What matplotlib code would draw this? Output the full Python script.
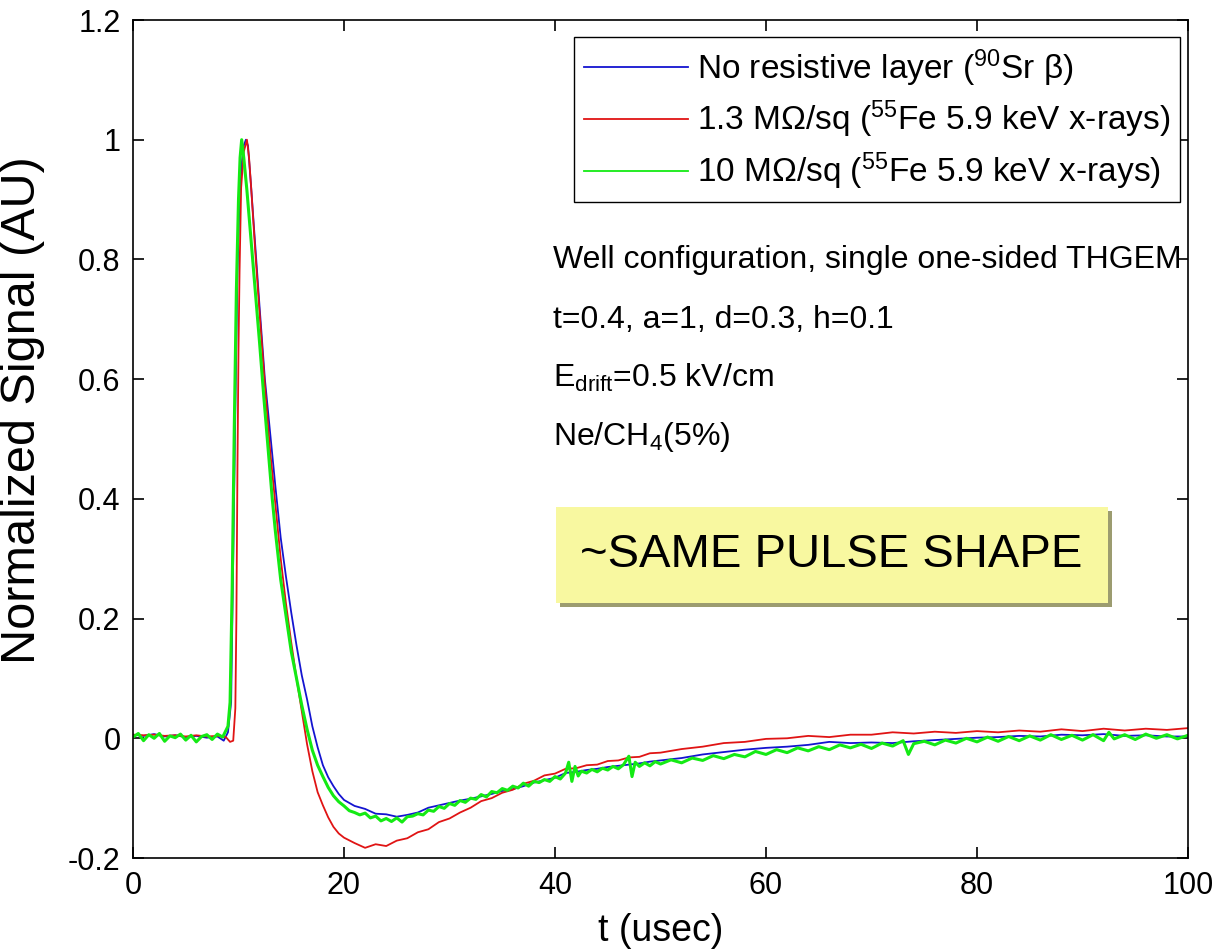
import matplotlib
matplotlib.use("Agg")
import matplotlib.pyplot as plt
from matplotlib.patches import Rectangle
import matplotlib.patheffects as pe

plt.rcParams['font.family'] = ['Liberation Sans', 'DejaVu Sans']
plt.rcParams['mathtext.fontset'] = 'custom'
plt.rcParams['mathtext.rm'] = 'Liberation Sans'
plt.rcParams['mathtext.it'] = 'Liberation Sans:italic'
plt.rcParams['mathtext.bf'] = 'Liberation Sans:bold'

# ---- pulse data: time (usec) and normalized signal ----
t_blue = [0, 1, 2, 3, 4, 5, 6, 7, 8, 8.6, 9.0, 9.3, 9.5, 9.7, 9.9, 10.1, 10.3, 10.5,
          10.7, 10.9, 11.2, 11.6, 12.0, 12.5, 13.0, 13.5, 14.0, 14.5, 15.0, 15.5,
          16.0, 16.5, 17.0, 17.5, 18.0, 18.5, 19.0, 19.5, 20, 21, 22, 23, 24, 25,
          26, 27, 28, 29, 30, 31, 32, 33, 34, 35, 36, 37, 38, 39, 40, 41, 42, 43,
          44, 45, 46, 47, 48, 49, 50, 52, 54, 56, 58, 60, 62, 64, 66, 68, 70, 72,
          74, 76, 78, 80, 82, 84, 86, 88, 90, 92, 94, 96, 98, 100]
v_blue = [0.006, 0.004, 0.007, 0.003, 0.005, 0.002, 0.004, 0.001, 0.003, -0.004,
          0.010, 0.060, 0.300, 0.550, 0.780, 0.900, 0.960, 0.990, 1.000, 0.990,
          0.920, 0.820, 0.720, 0.600, 0.510, 0.420, 0.335, 0.270, 0.210, 0.155,
          0.105, 0.065, 0.020, -0.015, -0.045, -0.065, -0.080, -0.093, -0.103,
          -0.113, -0.118, -0.126, -0.127, -0.131, -0.128, -0.124, -0.116, -0.112,
          -0.108, -0.104, -0.101, -0.097, -0.093, -0.088, -0.085, -0.080, -0.074,
          -0.070, -0.066, -0.058, -0.056, -0.053, -0.051, -0.048, -0.046, -0.044,
          -0.042, -0.039, -0.037, -0.033, -0.027, -0.023, -0.019, -0.016, -0.014,
          -0.011, -0.006, -0.008, -0.007, -0.008, -0.005, -0.003, -0.001, 0.001,
          0.002, 0.004, 0.003, 0.006, 0.005, 0.007, 0.004, 0.005, 0.003, 0.003]

t_red = [0, 1, 2, 3, 4, 5, 6, 7, 8, 8.8, 9.2, 9.5, 9.7, 9.8, 9.9, 10.0, 10.1, 10.25,
         10.5, 10.8, 11.0, 11.2, 11.6, 12.0, 12.5, 13.0, 13.5, 14.0, 14.5, 15.0,
         15.5, 16.0, 16.5, 17.0, 17.5, 18.0, 18.5, 19.0, 19.5, 20, 21, 22, 23, 24,
         25, 26, 27, 28, 29, 30, 31, 32, 33, 34, 35, 36, 37, 38, 39, 40, 41, 42,
         43, 44, 45, 46, 47, 48, 49, 50, 52, 54, 56, 58, 60, 62, 64, 66, 68, 70,
         72, 74, 76, 78, 80, 82, 84, 86, 88, 90, 92, 94, 96, 98, 100]
v_red = [0.006, 0.005, 0.006, 0.004, 0.005, 0.003, 0.005, 0.003, 0.004, 0.002,
         -0.006, -0.004, 0.050, 0.200, 0.450, 0.650, 0.780, 0.920, 0.980, 1.000,
         0.970, 0.920, 0.810, 0.710, 0.590, 0.480, 0.390, 0.300, 0.225, 0.160,
         0.100, 0.045, -0.010, -0.055, -0.090, -0.112, -0.132, -0.148, -0.159,
         -0.166, -0.175, -0.183, -0.177, -0.180, -0.171, -0.167, -0.157, -0.152,
         -0.140, -0.134, -0.124, -0.116, -0.105, -0.100, -0.091, -0.086, -0.076,
         -0.071, -0.062, -0.059, -0.051, -0.050, -0.045, -0.044, -0.038, -0.037,
         -0.032, -0.031, -0.025, -0.024, -0.018, -0.014, -0.008, -0.006, -0.001,
         0.000, 0.004, 0.002, 0.006, 0.006, 0.010, 0.008, 0.011, 0.009, 0.012,
         0.010, 0.013, 0.011, 0.015, 0.012, 0.016, 0.013, 0.016, 0.014, 0.017]

t_green = [0, 0.5, 1, 1.5, 2, 2.5, 3, 3.5, 4, 4.5, 5, 5.5, 6, 6.5, 7, 7.5, 8, 8.5,
           9.0, 9.2, 9.4, 9.6, 9.8, 10.0, 10.15, 10.3, 10.5, 10.8, 11.2, 11.6,
           12.0, 12.4, 12.8, 13.2, 13.5, 14.0, 14.5, 15.0, 15.5, 16.0, 16.5, 17.0,
           17.5, 18.0, 18.5, 19.0, 19.5, 20.0, 20.5, 21, 21.5, 22, 22.5, 23, 23.5,
           24, 24.5, 25, 25.5, 26, 26.5, 27, 27.5, 28, 28.5, 29, 29.5, 30, 30.5,
           31, 31.5, 32, 32.5, 33, 33.5, 34, 34.5, 35, 35.5, 36, 36.5, 37, 37.5,
           38, 38.5, 39, 39.5, 40, 40.5, 41, 41.3, 41.6, 41.9, 42.2, 42.5, 43,
           43.5, 44, 44.5, 45, 45.5, 46, 46.5, 47.0, 47.3, 47.6, 48, 48.5, 49,
           49.5, 50, 51, 52, 53, 54, 55, 56, 57, 58, 59, 60, 61, 62, 63, 64, 65,
           66, 67, 68, 69, 70, 71, 72, 73, 73.5, 74, 75, 76, 77, 78, 79, 80, 81,
           82, 83, 84, 85, 86, 87, 88, 89, 90, 91, 92, 92.5, 93, 94, 95, 96, 97,
           98, 99, 100]
v_green = [0.002, 0.008, -0.004, 0.006, 0.000, 0.008, -0.005, 0.004, 0.001, 0.007,
           -0.003, 0.005, -0.006, 0.003, 0.006, -0.002, 0.007, 0.002, 0.020, 0.060,
           0.250, 0.520, 0.750, 0.900, 0.970, 1.000, 0.970, 0.915, 0.830, 0.745,
           0.660, 0.570, 0.485, 0.400, 0.345, 0.265, 0.205, 0.145, 0.100, 0.055,
           0.015, -0.020, -0.045, -0.064, -0.082, -0.096, -0.106, -0.113, -0.121,
           -0.124, -0.128, -0.125, -0.133, -0.130, -0.138, -0.134, -0.139, -0.133,
           -0.140, -0.131, -0.130, -0.126, -0.128, -0.120, -0.122, -0.114, -0.117,
           -0.109, -0.112, -0.104, -0.107, -0.100, -0.102, -0.094, -0.098, -0.089,
           -0.091, -0.084, -0.087, -0.080, -0.083, -0.075, -0.080, -0.072, -0.074,
           -0.069, -0.072, -0.064, -0.068, -0.058, -0.040, -0.072, -0.047, -0.063,
           -0.055, -0.058, -0.052, -0.056, -0.050, -0.053, -0.047, -0.051, -0.044,
           -0.030, -0.064, -0.040, -0.047, -0.041, -0.046, -0.039, -0.043, -0.036,
           -0.041, -0.033, -0.037, -0.029, -0.034, -0.027, -0.031, -0.022, -0.027,
           -0.019, -0.024, -0.016, -0.021, -0.014, -0.019, -0.011, -0.016, -0.010,
           -0.017, -0.008, -0.013, -0.004, -0.027, -0.009, -0.005, -0.011, -0.003,
           -0.008, 0.000, -0.006, 0.002, -0.005, 0.003, -0.004, 0.004, -0.003,
           0.006, -0.002, 0.005, -0.003, 0.006, -0.004, 0.010, -0.001, 0.006,
           -0.002, 0.007, 0.000, 0.006, -0.001, 0.005]

labels = [r'No resistive layer ($^{90}$Sr β)',
          r'1.3 MΩ/sq ($^{55}$Fe 5.9 keV x-rays)',
          r'10 MΩ/sq ($^{55}$Fe 5.9 keV x-rays)']
x_ticks = [0, 20, 40, 60, 80, 100]
y_ticks = [-0.2, 0, 0.2, 0.4, 0.6, 0.8, 1.0, 1.2]
y_tick_labels = ['-0.2', '0', '0.2', '0.4', '0.6', '0.8', '1', '1.2']

W, H = 1221, 949
fig = plt.figure(figsize=(W / 100, H / 100), dpi=100)
ax = fig.add_axes([133 / W, 1 - 858 / H, (1188 - 133) / W, (858 - 20) / H])

ax.plot(t_blue, v_blue, color='#1414d0', lw=1.3, label=labels[0])
ax.plot(t_red, v_red, color='#e01414', lw=1.3, label=labels[1])
ax.plot(t_green, v_green, color='#14ea14', lw=2.2, label=labels[2])

ax.set_xlim(0, 100)
ax.set_ylim(-0.2, 1.2)
ax.set_xticks(x_ticks)
ax.set_xticklabels([str(v) for v in x_ticks])
ax.set_yticks(y_ticks)
ax.set_yticklabels(y_tick_labels)
ax.tick_params(direction='in', length=8, width=1.2, top=True, right=True,
               labelsize=22, pad=9)
for s in ax.spines.values():
    s.set_linewidth(1.2)

ax.set_xlabel('t (usec)', fontsize=27, labelpad=9)
ax.set_ylabel('Normalized Signal (AU)', fontsize=35)
ax.yaxis.set_label_coords(-0.0834, 0.535)

leg = ax.legend(loc='upper right', bbox_to_anchor=(0.9924, 0.9797),
                borderaxespad=0, fontsize=24, handlelength=3.1,
                handletextpad=0.27, labelspacing=0.31, fancybox=False,
                framealpha=1, edgecolor='black', borderpad=0.3)
leg.get_frame().set_linewidth(1.0)
for h in leg.get_lines():
    h.set_linewidth(1.3)

info = ['Well configuration, single one-sided THGEM',
        't=0.4, a=1, d=0.3, h=0.1',
        r'E$_{\mathrm{drift}}$=0.5 kV/cm',
        r'Ne/CH$_4$(5%)']
info_y = [0.786, 0.685, 0.587, 0.490]
for s, y in zip(info, info_y):
    ax.text(39.8, y, s, fontsize=23, ha='left', va='baseline')

# highlighted remark with a drop shadow
box = Rectangle((40.1, 0.2265), 52.3, 0.1605, facecolor='#f8f8a0',
                edgecolor='none', zorder=4)
box.set_path_effects([pe.SimplePatchShadow(offset=(3, -3), shadow_rgbFace='#9c9c70',
                                           alpha=1.0), pe.Normal()])
ax.add_patch(box)
ax.text(66.2, 0.307, '~SAME PULSE SHAPE', fontsize=34, ha='center',
        va='center', zorder=5)

fig.savefig('out.png', dpi=100)
